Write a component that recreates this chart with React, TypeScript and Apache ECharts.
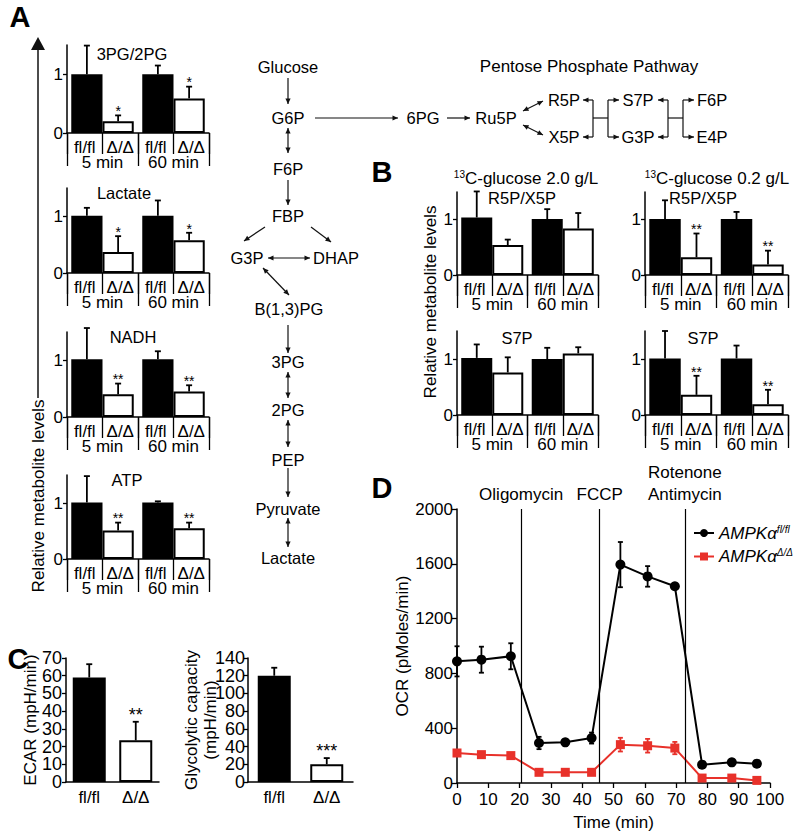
import React, { useEffect, useRef } from 'react';
import * as echarts from 'echarts';

const FONT = "'Liberation Sans', Arial, Helvetica, sans-serif";

// ---------- shared categories ----------
const timeCats = ['5 min', '60 min'];
const genoCats = ['fl/fl', 'Δ/Δ', 'fl/fl', 'Δ/Δ'];
const smallTickValues = [0, 1];

// ---------- Panel A ----------
const pgFl = [1.0, 1.0];
const pgFlErr = [0.49, 0.15];
const pgKo = [0.2, 0.59];
const pgKoErr = [0.1, 0.2];
const pgSig = ['*', '*'];

const lacFl = [1.01, 1.01];
const lacFlErr = [0.14, 0.27];
const lacKo = [0.37, 0.58];
const lacKoErr = [0.28, 0.13];
const lacSig = ['*', '*'];

const nadhFl = [1.02, 1.02];
const nadhFlErr = [0.55, 0.14];
const nadhKo = [0.4, 0.45];
const nadhKoErr = [0.19, 0.11];
const nadhSig = ['**', '**'];

const atpFl = [1.01, 1.01];
const atpFlErr = [0.47, 0.02];
const atpKo = [0.51, 0.55];
const atpKoErr = [0.14, 0.1];
const atpSig = ['**', '**'];

// ---------- Panel B ----------
const r5pHiFl = [1.04, 1.01];
const r5pHiFlErr = [0.47, 0.18];
const r5pHiKo = [0.54, 0.84];
const r5pHiKoErr = [0.1, 0.28];
const r5pHiSig = ['', ''];

const r5pLoFl = [1.01, 1.01];
const r5pLoFlErr = [0.34, 0.13];
const r5pLoKo = [0.32, 0.19];
const r5pLoKoErr = [0.43, 0.25];
const r5pLoSig = ['**', '**'];

const s7pHiFl = [1.02, 1.0];
const s7pHiFlErr = [0.24, 0.2];
const s7pHiKo = [0.76, 1.1];
const s7pHiKoErr = [0.27, 0.11];
const s7pHiSig = ['', ''];

const s7pLoFl = [1.01, 1.01];
const s7pLoFlErr = [0.49, 0.23];
const s7pLoKo = [0.36, 0.19];
const s7pLoKoErr = [0.34, 0.26];
const s7pLoSig = ['**', '**'];

// ---------- Panel C ----------
const cCats = ['fl/fl', 'Δ/Δ'];
const ecar = [59, 23.5];
const ecarErr = [7.5, 10.5];
const ecarSig = ['', '**'];
const ecarTicks = [0, 10, 20, 30, 40, 50, 60, 70];
const glyc = [120, 20];
const glycErr = [9, 7];
const glycSig = ['', '***'];
const glycTicks = [0, 20, 40, 60, 80, 100, 120, 140];

// ---------- Panel D ----------
const dTimes = [0, 7.8, 17.2, 26.2, 34.6, 43, 52.2, 60.9, 69.6, 78.3, 87.8, 95.8];
const dFl = [888, 900, 925, 292, 297, 328, 1594, 1508, 1436, 134, 151, 141];
const dFlErr = [110, 95, 95, 45, 25, 40, 165, 75, 20, 20, 25, 20];
const dKo = [219, 207, 200, 78, 78, 78, 280, 272, 255, 36, 36, 19];
const dKoErr = [15, 12, 12, 10, 10, 10, 50, 50, 45, 10, 10, 10];
const injectTimes = [20.5, 45.6, 72.8];
const injectNames = ['Oligomycin', 'FCCP', 'Rotenone\nAntimycin'];

// ---------- layout (pixels) ----------
const layoutA = [
  [67, 45, 142, 88],
  [67, 188, 142, 85],
  [67, 332, 142, 85],
  [67, 475, 142, 84],
];
const layoutB = [
  [457, 192, 141, 83],
  [645, 192, 143, 83],
  [457, 331, 141, 84],
  [645, 331, 143, 84],
];

const BLACK = '#000';
const RED = '#e8312a';

function errRender(frac: number, sigs: string[] | null, sigSize: number, sigOff: number, color: string, symmetric: boolean, capW: number) {
  return (params: any, api: any) => {
    const xv = api.value(0);
    const m = api.value(1);
    const e = api.value(2);
    const side = api.value(3);
    const p0 = api.coord([xv, symmetric ? m - e : m]);
    const p1 = api.coord([xv, m + e]);
    const bw = frac ? api.size([1, 0])[0] : 0;
    const x = p0[0] + side * bw * frac;
    const ls = { stroke: color, lineWidth: 1.8 };
    const children: any[] = [
      { type: 'line', shape: { x1: x, y1: p0[1], x2: x, y2: p1[1] }, style: ls },
      { type: 'line', shape: { x1: x - capW / 2, y1: p1[1], x2: x + capW / 2, y2: p1[1] }, style: ls },
    ];
    if (symmetric) {
      children.push({ type: 'line', shape: { x1: x - capW / 2, y1: p0[1], x2: x + capW / 2, y2: p0[1] }, style: ls });
    }
    const s = sigs ? sigs[params.dataIndex] : '';
    if (s) {
      children.push({
        type: 'text',
        x,
        y: p1[1] - sigSize * sigOff,
        style: { text: s, fontSize: sigSize, fontFamily: FONT, fill: '#000', align: 'center', verticalAlign: 'middle' },
      });
    }
    return { type: 'group', children };
  };
}

// y tick labels placed through the axis scale (left of the grid)
function tickLabelRender(gap: number, size: number) {
  return (params: any, api: any) => {
    const v = api.value(1);
    const p = api.coord([0, v]);
    const bw = api.size([1, 0])[0];
    return {
      type: 'text',
      x: p[0] - bw / 2 - gap,
      y: p[1],
      style: { text: String(v), fontSize: size, fontFamily: FONT, fill: '#000', align: 'right', verticalAlign: 'middle' },
    };
  };
}

function headPoly(tx: number, ty: number, fx: number, fy: number, len = 5.5, hw = 2.6) {
  const dx = tx - fx;
  const dy = ty - fy;
  const L = Math.hypot(dx, dy);
  const ux = dx / L;
  const uy = dy / L;
  const bx = tx - ux * len;
  const by = ty - uy * len;
  return {
    type: 'polygon',
    silent: true,
    shape: { points: [[tx, ty], [bx - uy * hw, by + ux * hw], [bx + uy * hw, by - ux * hw]] },
    style: { fill: '#111' },
  };
}

function arrow(x1: number, y1: number, x2: number, y2: number, both = false) {
  const els: any[] = [
    { type: 'line', silent: true, shape: { x1, y1, x2, y2 }, style: { stroke: '#111', lineWidth: 1.2 } },
    headPoly(x2, y2, x1, y1),
  ];
  if (both) els.push(headPoly(x1, y1, x2, y2));
  return els;
}

function seg(x1: number, y1: number, x2: number, y2: number, w = 1.2) {
  return { type: 'line', silent: true, shape: { x1, y1, x2, y2 }, style: { stroke: '#111', lineWidth: w } };
}

function txt(x: number, y: number, text: string, size = 16.5, extra: any = {}, rot = 0) {
  return {
    type: 'text',
    silent: true,
    x,
    y,
    rotation: rot,
    style: { text, fontSize: size, fontFamily: FONT, fill: '#000', align: 'center', verticalAlign: 'middle', ...extra },
  };
}

const plain = (v: number) => String(v);

function buildOption() {
  const grids: any[] = [];
  const xAxes: any[] = [];
  const yAxes: any[] = [];
  const series: any[] = [];
  const axisLineStyle = { color: '#000', width: 1.5 };

  function addSmall(fl: number[], flErr: number[], ko: number[], koErr: number[], sig: string[], g: number[]) {
    const gi = grids.length;
    grids.push({ left: g[0], top: g[1], width: g[2], height: g[3] });
    const xb = xAxes.length;
    xAxes.push({
      gridIndex: gi, type: 'category', data: timeCats, position: 'bottom',
      axisLine: { lineStyle: axisLineStyle }, axisTick: { show: false }, axisLabel: { show: false }, splitLine: { show: false },
    });
    xAxes.push({
      gridIndex: gi, type: 'category', data: genoCats, position: 'bottom',
      axisLine: { show: false },
      axisTick: { show: true, length: 21, lineStyle: { color: '#000', width: 1.3 } },
      axisLabel: { margin: 7, fontSize: 17, lineHeight: 14, color: '#000', fontFamily: FONT, interval: 0 },
      splitLine: { show: false },
    });
    xAxes.push({
      gridIndex: gi, type: 'category', data: timeCats, position: 'bottom',
      axisLine: { show: false },
      axisTick: { show: true, length: 33, lineStyle: { color: '#000', width: 1.3 } },
      axisLabel: { margin: 22, fontSize: 17, lineHeight: 14, color: '#000', fontFamily: FONT, interval: 0 },
      splitLine: { show: false },
    });
    const yi = yAxes.length;
    yAxes.push({
      gridIndex: gi, type: 'value', min: 0, max: 1.5, interval: 1,
      axisLine: { show: true, lineStyle: axisLineStyle },
      axisTick: { show: true, length: 4, customValues: smallTickValues, lineStyle: { color: '#000', width: 1.3 } },
      axisLabel: {
        customValues: smallTickValues, margin: 4, fontSize: 17, color: '#000', fontFamily: FONT,
        formatter: (v: number) => (v === 0 || v === 1 ? String(v) : ''),
      },
      splitLine: { show: false },
    });
    series.push({
      type: 'bar', xAxisIndex: xb, yAxisIndex: yi, data: fl, barWidth: '44%', barGap: '0%',
      itemStyle: { color: BLACK }, silent: true,
    });
    series.push({
      type: 'bar', xAxisIndex: xb, yAxisIndex: yi, data: ko, barWidth: '44%', barGap: '0%',
      itemStyle: { color: '#fff', borderColor: BLACK, borderWidth: 2 }, silent: true,
    });
    const rows: number[][] = [];
    const sigs: string[] = [];
    for (let i = 0; i < fl.length; i++) {
      rows.push([i, fl[i], flErr[i], -1]);
      sigs.push('');
      rows.push([i, ko[i], koErr[i], 1]);
      sigs.push(sig[i]);
    }
    series.push({
      type: 'custom', xAxisIndex: xb, yAxisIndex: yi, data: rows, encode: { x: 0, y: 1 }, clip: false, z: 5, silent: true,
      renderItem: errRender(0.22, sigs, 14, 0.3, BLACK, false, 6),
    });
  }

  addSmall(pgFl, pgFlErr, pgKo, pgKoErr, pgSig, layoutA[0]);
  addSmall(lacFl, lacFlErr, lacKo, lacKoErr, lacSig, layoutA[1]);
  addSmall(nadhFl, nadhFlErr, nadhKo, nadhKoErr, nadhSig, layoutA[2]);
  addSmall(atpFl, atpFlErr, atpKo, atpKoErr, atpSig, layoutA[3]);
  addSmall(r5pHiFl, r5pHiFlErr, r5pHiKo, r5pHiKoErr, r5pHiSig, layoutB[0]);
  addSmall(r5pLoFl, r5pLoFlErr, r5pLoKo, r5pLoKoErr, r5pLoSig, layoutB[1]);
  addSmall(s7pHiFl, s7pHiFlErr, s7pHiKo, s7pHiKoErr, s7pHiSig, layoutB[2]);
  addSmall(s7pLoFl, s7pLoFlErr, s7pLoKo, s7pLoKoErr, s7pLoSig, layoutB[3]);

  // ---------- Panel C ----------
  function addC(vals: number[], errs: number[], sig: string[], ticks: number[], g: number[], max: number, interval: number, name: string, nameGap: number, labelGap: number) {
    const gi = grids.length;
    grids.push({ left: g[0], top: g[1], width: g[2], height: g[3] });
    const xi = xAxes.length;
    xAxes.push({
      gridIndex: gi, type: 'category', data: cCats,
      axisLine: { lineStyle: axisLineStyle }, axisTick: { show: false },
      axisLabel: { margin: 7, fontSize: 17, color: '#000', fontFamily: FONT, interval: 0 },
    });
    const yi = yAxes.length;
    yAxes.push({
      gridIndex: gi, type: 'value', min: 0, max, interval,
      name, nameLocation: 'middle', nameGap, nameMoveOverlap: false,
      nameTextStyle: { fontSize: 17, color: '#000', fontFamily: FONT, lineHeight: 19 },
      axisLine: { show: true, lineStyle: axisLineStyle },
      axisTick: { show: true, length: 4, customValues: ticks, lineStyle: { color: '#000', width: 1.3 } },
      axisLabel: { show: false },
      splitLine: { show: false },
    });
    series.push({
      type: 'bar', xAxisIndex: xi, yAxisIndex: yi, barWidth: 33, silent: true,
      data: vals.map((v, i) => ({
        value: v,
        itemStyle: i === 0 ? { color: BLACK } : { color: '#fff', borderColor: BLACK, borderWidth: 2 },
      })),
    });
    series.push({
      type: 'custom', xAxisIndex: xi, yAxisIndex: yi, encode: { x: 0, y: 1 }, clip: false, z: 5, silent: true,
      data: vals.map((v, i) => [i, v, errs[i], 0]),
      renderItem: errRender(0, sig, 18, 0.4, BLACK, false, 6),
    });
    series.push({
      type: 'custom', xAxisIndex: xi, yAxisIndex: yi, encode: { x: 0, y: 1 }, clip: false, z: 5, silent: true,
      data: ticks.map((t) => [0, t]),
      renderItem: tickLabelRender(labelGap, 18),
    });
  }
  addC(ecar, ecarErr, ecarSig, ecarTicks, [66, 658, 93, 124], 70, 10, 'ECAR (mpH/min)', 26, 4);
  addC(glyc, glycErr, glycSig, glycTicks, [248, 658, 105, 124], 140, 20, 'Glycolytic capacity\n(mpH/min)', 28, 3);

  // ---------- Panel D ----------
  const gd = grids.length;
  grids.push({ left: 457, top: 509, width: 313, height: 274 });
  const xd = xAxes.length;
  xAxes.push({
    gridIndex: gd, type: 'value', min: 0, max: 100, interval: 10,
    name: 'Time (min)', nameLocation: 'middle', nameGap: 31,
    nameTextStyle: { fontSize: 17, color: '#000', fontFamily: FONT },
    axisLine: { lineStyle: axisLineStyle },
    axisTick: { show: true, length: 5, lineStyle: { color: '#000', width: 1.3 } },
    axisLabel: { margin: 8, fontSize: 17, color: '#000', fontFamily: FONT, showMinLabel: true, showMaxLabel: true, formatter: plain },
    splitLine: { show: false },
  });
  const yd = yAxes.length;
  yAxes.push({
    gridIndex: gd, type: 'value', min: 0, max: 2000, interval: 400,
    name: 'OCR (pMoles/min)', nameLocation: 'middle', nameGap: 44,
    nameTextStyle: { fontSize: 17, color: '#000', fontFamily: FONT },
    axisLine: { show: true, lineStyle: axisLineStyle },
    axisTick: { show: true, length: 5, lineStyle: { color: '#000', width: 1.3 } },
    axisLabel: { margin: 4, fontSize: 17, color: '#000', fontFamily: FONT, showMinLabel: true, showMaxLabel: true, formatter: plain },
    splitLine: { show: false },
  });
  series.push({
    name: 'fl', type: 'line', xAxisIndex: xd, yAxisIndex: yd,
    data: dTimes.map((t, i) => [t, dFl[i]]),
    symbol: 'circle', symbolSize: 10,
    lineStyle: { color: BLACK, width: 2 }, itemStyle: { color: BLACK },
    z: 4,
    markLine: {
      silent: true, symbol: ['none', 'none'],
      lineStyle: { color: '#000', width: 1.2, type: 'solid' },
      label: { show: true, position: 'end', distance: 4, fontSize: 17, color: '#000', fontFamily: FONT, lineHeight: 22 },
      data: injectTimes.map((t, i) => ({ xAxis: t, label: { formatter: injectNames[i] } })),
    },
  });
  series.push({
    name: 'ko', type: 'line', xAxisIndex: xd, yAxisIndex: yd,
    data: dTimes.map((t, i) => [t, dKo[i]]),
    symbol: 'rect', symbolSize: 9,
    lineStyle: { color: RED, width: 2 }, itemStyle: { color: RED },
    z: 4,
  });
  series.push({
    type: 'custom', xAxisIndex: xd, yAxisIndex: yd, encode: { x: 0, y: 1 }, clip: false, z: 3, silent: true,
    data: dTimes.map((t, i) => [t, dFl[i], dFlErr[i], 0]),
    renderItem: errRender(0, null, 12, 0, BLACK, true, 5),
  });
  series.push({
    type: 'custom', xAxisIndex: xd, yAxisIndex: yd, encode: { x: 0, y: 1 }, clip: false, z: 3, silent: true,
    data: dTimes.map((t, i) => [t, dKo[i], dKoErr[i], 0]),
    renderItem: errRender(0, null, 12, 0, RED, true, 5),
  });

  // ---------- Graphics: labels, pathway ----------
  const bold = { fontWeight: 'bold' };
  const sup = { rich: { s: { fontSize: 10, fontFamily: FONT, verticalAlign: 'top', lineHeight: 18 }, n: { fontSize: 17, fontFamily: FONT, lineHeight: 18 } } };
  const els: any[] = [
    txt(20, 17, 'A', 29, bold),
    txt(382, 172, 'B', 29, bold),
    txt(18, 659, 'C', 29, bold),
    txt(382, 488, 'D', 29, bold),
    // Panel A titles
    txt(132, 54, '3PG/2PG'),
    txt(124, 193, 'Lactate'),
    txt(133, 337, 'NADH'),
    txt(127, 480, 'ATP'),
    // Panel A big arrow + label
    seg(38, 398, 38, 44, 1.5),
    headPoly(38, 37, 38, 60, 13, 7),
    txt(38, 496, 'Relative metabolite levels', 17, {}, Math.PI / 2),
    // Panel B titles
    txt(526, 178, '{s|13}{n|C-glucose 2.0 g/L}', 17, sup),
    txt(522, 198, 'R5P/X5P'),
    txt(717, 178, '{s|13}{n|C-glucose 0.2 g/L}', 17, sup),
    txt(703, 198, 'R5P/X5P'),
    txt(517, 338, 'S7P'),
    txt(703, 338, 'S7P'),
    txt(430, 302, 'Relative metabolite levels', 17, {}, Math.PI / 2),
    // Glycolysis
    txt(288, 67, 'Glucose'),
    txt(288, 118, 'G6P'),
    txt(288, 169, 'F6P'),
    txt(288, 216, 'FBP'),
    txt(247, 258, 'G3P'),
    txt(336, 258, 'DHAP'),
    txt(289, 309, 'B(1,3)PG'),
    txt(288, 362, '3PG'),
    txt(288, 410, '2PG'),
    txt(288, 460, 'PEP'),
    txt(288, 509, 'Pyruvate'),
    txt(288, 558, 'Lactate'),
    ...arrow(288, 78, 288, 104),
    ...arrow(288, 128, 288, 153, true),
    ...arrow(288, 180, 288, 205),
    ...arrow(265, 227, 244, 241),
    ...arrow(311, 227, 331, 242),
    ...arrow(268, 258, 310, 258, true),
    ...arrow(263, 268, 289, 295, true),
    ...arrow(288, 325, 288, 353),
    ...arrow(288, 372, 288, 398, true),
    ...arrow(288, 420, 288, 447, true),
    ...arrow(288, 468, 288, 497),
    ...arrow(288, 518, 288, 547, true),
    ...arrow(315, 118, 398, 118),
    // Pentose phosphate pathway
    txt(589, 66, 'Pentose Phosphate Pathway', 17),
    txt(423, 118, '6PG'),
    txt(496, 118, 'Ru5P'),
    txt(564, 100, 'R5P'),
    txt(564, 137, 'X5P'),
    txt(638, 100, 'S7P'),
    txt(638, 137, 'G3P'),
    txt(712, 100, 'F6P'),
    txt(712, 137, 'E4P'),
    ...arrow(447, 118, 470, 118),
    ...arrow(543, 101, 523, 111, true),
    ...arrow(543, 135, 523, 125, true),
    ...arrow(593, 100, 583, 100),
    ...arrow(593, 137, 583, 137),
    seg(593, 100, 593, 137),
    seg(593, 118, 608, 118),
    seg(608, 100, 608, 137),
    ...arrow(608, 100, 619, 100),
    ...arrow(608, 137, 619, 137),
    ...arrow(668, 100, 658, 100),
    ...arrow(668, 137, 658, 137),
    seg(668, 100, 668, 137),
    seg(668, 118, 683, 118),
    seg(683, 100, 683, 137),
    ...arrow(683, 100, 694, 100),
    ...arrow(683, 137, 694, 137),
  ];

  return {
    animation: false,
    backgroundColor: '#fff',
    textStyle: { fontFamily: FONT, color: '#000' },
    grid: grids,
    xAxis: xAxes,
    yAxis: yAxes,
    series,
    legend: {
      data: ['fl', 'ko'],
      orient: 'vertical',
      left: 688,
      top: 519,
      itemWidth: 20,
      itemHeight: 10,
      itemGap: 6,
      selectedMode: false,
      formatter: (name: string) => (name === 'fl' ? '{i|AMPKα}{s|fl/fl}' : '{i|AMPKα}{s|Δ/Δ}'),
      textStyle: {
        fontFamily: FONT,
        color: '#000',
        rich: {
          i: { fontSize: 17, fontStyle: 'italic', fontFamily: FONT, color: '#000', lineHeight: 18 },
          s: { fontSize: 10, fontStyle: 'italic', fontFamily: FONT, color: '#000', verticalAlign: 'top', lineHeight: 18 },
        },
      },
    },
    graphic: { elements: els },
  };
}

export default function App() {
  const ref = useRef<HTMLDivElement>(null);
  useEffect(() => {
    const chart = echarts.init(ref.current as HTMLDivElement, undefined, { renderer: 'svg' });
    chart.setOption(buildOption() as any);
    return () => chart.dispose();
  }, []);
  return (
    <div
      ref={ref}
      style={{ position: 'fixed', left: 0, top: 0, width: 800, height: 838, background: '#fff' }}
    />
  );
}
